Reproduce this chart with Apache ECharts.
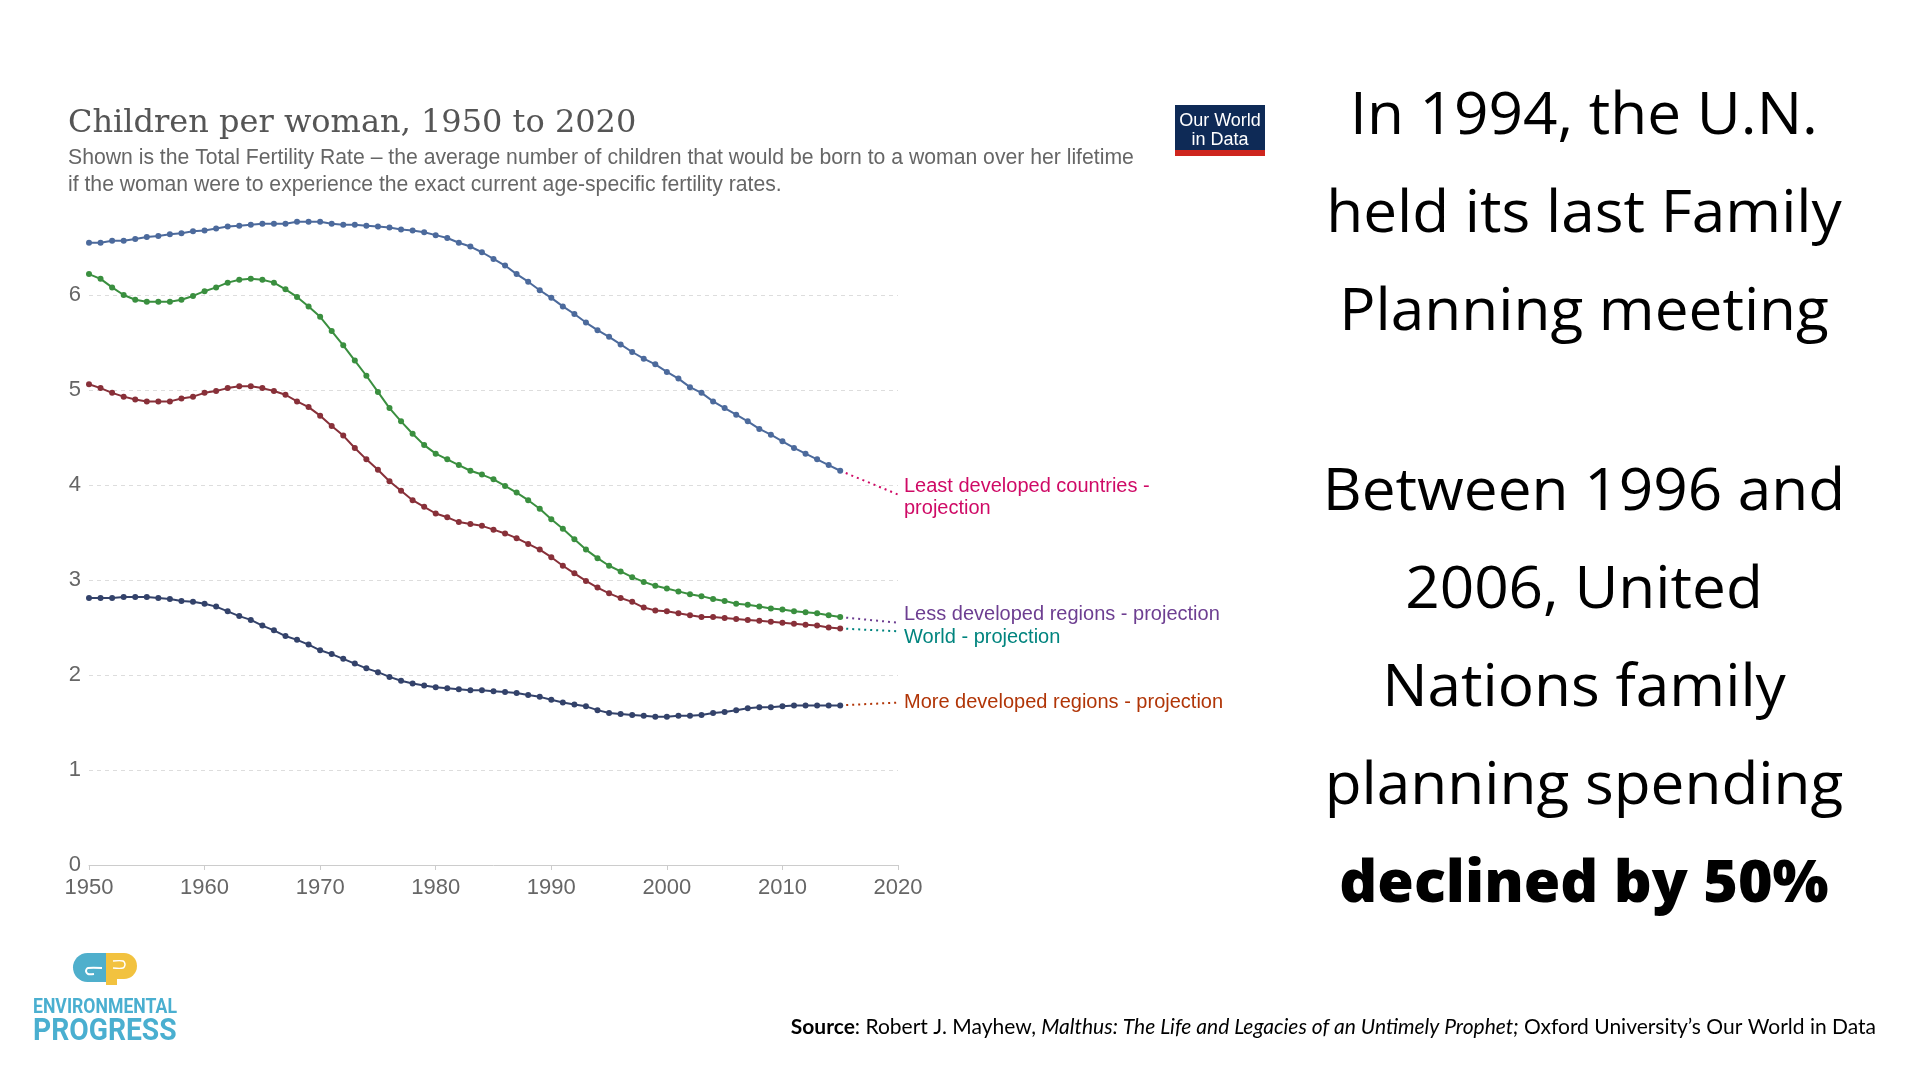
<!DOCTYPE html>
<html><head><meta charset="utf-8">
<script src="https://cdn.jsdelivr.net/npm/echarts@6/dist/echarts.min.js"></script>
<style>html,body{margin:0;padding:0;background:#fff}#c{width:1920px;height:1080px}</style>
</head><body><div id="c"></div>
<script>
const years = [1950,1951,1952,1953,1954,1955,1956,1957,1958,1959,
  1960,1961,1962,1963,1964,1965,1966,1967,1968,1969,
  1970,1971,1972,1973,1974,1975,1976,1977,1978,1979,
  1980,1981,1982,1983,1984,1985,1986,1987,1988,1989,
  1990,1991,1992,1993,1994,1995,1996,1997,1998,1999,
  2000,2001,2002,2003,2004,2005,2006,2007,2008,2009,
  2010,2011,2012,2013,2014,2015];
const leastDeveloped = [6.55,6.55,6.57,6.57,6.59,6.61,6.62,6.64,6.65,6.67,
  6.68,6.70,6.72,6.73,6.74,6.75,6.75,6.75,6.77,6.77,
  6.77,6.75,6.74,6.74,6.73,6.72,6.71,6.69,6.68,6.66,
  6.63,6.60,6.55,6.51,6.45,6.38,6.31,6.22,6.14,6.05,
  5.97,5.88,5.80,5.71,5.63,5.56,5.48,5.40,5.33,5.27,
  5.19,5.12,5.03,4.97,4.88,4.81,4.74,4.67,4.59,4.53,
  4.46,4.39,4.33,4.27,4.21,4.15];
const lessDeveloped = [6.22,6.17,6.08,6.00,5.95,5.93,5.93,5.93,5.95,5.99,
  6.04,6.08,6.13,6.16,6.17,6.16,6.13,6.06,5.98,5.88,
  5.77,5.62,5.47,5.31,5.15,4.98,4.81,4.67,4.54,4.42,
  4.33,4.27,4.21,4.15,4.11,4.06,3.99,3.92,3.84,3.75,
  3.64,3.54,3.43,3.32,3.23,3.15,3.09,3.03,2.98,2.94,
  2.91,2.88,2.85,2.83,2.80,2.78,2.75,2.74,2.72,2.70,
  2.69,2.67,2.66,2.65,2.63,2.61];
const world = [5.06,5.02,4.97,4.93,4.90,4.88,4.88,4.88,4.91,4.93,
  4.97,4.99,5.02,5.04,5.04,5.02,4.99,4.95,4.88,4.82,
  4.73,4.62,4.52,4.39,4.27,4.16,4.04,3.94,3.84,3.77,
  3.70,3.66,3.61,3.59,3.57,3.53,3.49,3.44,3.38,3.32,
  3.24,3.15,3.07,2.99,2.92,2.86,2.81,2.77,2.71,2.68,
  2.67,2.65,2.63,2.61,2.61,2.60,2.59,2.58,2.57,2.56,
  2.55,2.54,2.53,2.52,2.50,2.49];
const moreDeveloped = [2.81,2.81,2.81,2.82,2.82,2.82,2.81,2.80,2.78,2.77,
  2.75,2.72,2.67,2.62,2.58,2.52,2.47,2.41,2.37,2.32,
  2.26,2.22,2.17,2.12,2.07,2.03,1.98,1.94,1.91,1.89,
  1.87,1.86,1.85,1.84,1.84,1.83,1.82,1.81,1.79,1.77,
  1.74,1.71,1.69,1.67,1.63,1.60,1.59,1.58,1.57,1.56,
  1.56,1.57,1.57,1.58,1.60,1.61,1.63,1.65,1.66,1.66,
  1.67,1.68,1.68,1.68,1.68,1.68];
const projYears = [2015, 2020];
const projLeast = [4.15, 3.90];
const projLess = [2.61, 2.55];
const projWorld = [2.49, 2.46];
const projMore = [1.68, 1.71];
const projNames = ['Least developed countries -\nprojection', 'Less developed regions - projection', 'World - projection', 'More developed regions - projection'];
const xTicks = [1950,1960,1970,1980,1990,2000,2010,2020];
const yTicks = [0,1,2,3,4,5,6];

const rightBlock1 = ['In 1994, the U.N.', 'held its last Family', 'Planning meeting'];
const rightBlock2 = ['Between 1996 and', '2006, United', 'Nations family', 'planning spending'];
const rightBold = 'declined by 50%';

const pairs = (xs, ys) => xs.map((x, i) => [x, ys[i]]);

const mainSeries = [
  {name: 'Least developed countries', data: leastDeveloped, color: '#4c6a9c'},
  {name: 'Less developed regions', data: lessDeveloped, color: '#3a8f3f'},
  {name: 'World', data: world, color: '#883039'},
  {name: 'More developed regions', data: moreDeveloped, color: '#33426a'}
].map(s => ({
  type: 'line', name: s.name, data: pairs(years, s.data),
  symbol: 'circle', symbolSize: 6, showSymbol: true,
  lineStyle: {width: 2, color: s.color}, itemStyle: {color: s.color},
  z: 3
}));

const projDefs = [
  {data: projLeast, color: '#cf0a66', off: 3},
  {data: projLess, color: '#6d3e91', off: -8},
  {data: projWorld, color: '#00847e', off: 6},
  {data: projMore, color: '#b13507', off: 0}
];
const projSeries = projDefs.map((p, k) => ({
  type: 'line', name: projNames[k],
  data: pairs(projYears, p.data),
  symbol: 'none', showSymbol: false,
  lineStyle: {width: 2, color: p.color, type: [2, 4]},
  itemStyle: {color: p.color},
  endLabel: {show: true, distance: 6, offset: [0, p.off], formatter: projNames[k],
    color: p.color, fontSize: 20, lineHeight: 22, fontFamily: 'Liberation Sans'},
  z: 2
}));

const chart = echarts.init(document.getElementById('c'), null, {renderer: 'canvas'});

const graphics = [
  {type: 'text', x: 68, y: 124, style: {text: 'Children per woman, 1950 to 2020', fontFamily: 'DejaVu Serif', fontSize: 32, fill: '#555', textVerticalAlign: 'middle'}},
  {type: 'text', x: 68, y: 158, style: {text: 'Shown is the Total Fertility Rate – the average number of children that would be born to a woman over her lifetime', fontFamily: 'Liberation Sans', fontSize: 21.2, fill: '#666', textVerticalAlign: 'middle'}},
  {type: 'text', x: 68, y: 185, style: {text: 'if the woman were to experience the exact current age-specific fertility rates.', fontFamily: 'Liberation Sans', fontSize: 21.2, fill: '#666', textVerticalAlign: 'middle'}},
  // OWID logo
  {type: 'rect', shape: {x: 1175, y: 105, width: 90, height: 50}, style: {fill: '#0e2a56'}},
  {type: 'rect', shape: {x: 1175, y: 150, width: 90, height: 6}, style: {fill: '#ce261e'}},
  {type: 'text', x: 1220, y: 121, style: {text: 'Our World', fontFamily: 'Liberation Sans', fontSize: 18, fill: '#fff', textAlign: 'center', textVerticalAlign: 'middle'}},
  {type: 'text', x: 1220, y: 140, style: {text: 'in Data', fontFamily: 'Liberation Sans', fontSize: 18, fill: '#fff', textAlign: 'center', textVerticalAlign: 'middle'}},
  // EP logo
  {type: 'rect', shape: {x: 73, y: 953, width: 36, height: 29, r: [14.5, 0, 0, 14.5]}, style: {fill: '#4fafcc'}},
  {type: 'rect', shape: {x: 106, y: 953, width: 31, height: 26, r: [0, 13, 13, 0]}, style: {fill: '#f2c23f'}},
  {type: 'rect', shape: {x: 106, y: 970, width: 11, height: 15}, style: {fill: '#f2c23f'}},
  {type: 'polyline', shape: {points: [[102, 968], [88, 968], [86, 971], [88, 974], [94, 974]], smooth: 0.3}, style: {stroke: '#fff', lineWidth: 2, fill: null}},
  {type: 'polyline', shape: {points: [[113, 961], [123, 961], [125, 964.5], [123, 968], [113, 968]], smooth: 0.3}, style: {stroke: '#fff', lineWidth: 1.5, fill: null}},
  {type: 'text', x: 33, y: 1008, scaleX: 0.84, style: {text: 'ENVIRONMENTAL', fontFamily: 'Roboto', fontWeight: 'bold', fontSize: 21, fill: '#4aafd0', textVerticalAlign: 'middle'}},
  {type: 'text', x: 33, y: 1032, scaleX: 0.91, style: {text: 'PROGRESS', fontFamily: 'Roboto', fontWeight: 'bold', fontSize: 31, fill: '#4aafd0', textVerticalAlign: 'middle'}},
  // Source
  {type: 'text', x: 1876, y: 1027, style: {
    text: '{b|Source}: Robert J. Mayhew, {i|Malthus: The Life and Legacies of an Untimely Prophet;} Oxford University’s Our World in Data',
    fontFamily: 'Lato', fontSize: 21, fill: '#000', textAlign: 'right', textVerticalAlign: 'middle',
    rich: {b: {fontFamily: 'Lato', fontSize: 21, fontWeight: 'bold', fill: '#000'}, i: {fontFamily: 'Lato', fontSize: 21, fontStyle: 'italic', fill: '#000'}}
  }}
];
const bigText = (t, y, weight, sx) => ({type: 'text', x: 1584, y: y, scaleX: sx,
  style: {text: t, fontFamily: 'Open Sans', fontWeight: weight, fontSize: 58, fill: '#000', textAlign: 'center', textVerticalAlign: 'middle'}});
rightBlock1.forEach((t, i) => graphics.push(bigText(t, 117 + i * 98, 500, 1.04)));
rightBlock2.forEach((t, i) => graphics.push(bigText(t, 493 + i * 98, 500, 1.04)));
graphics.push(bigText(rightBold, 493 + 4 * 98, 800, 1.02));

chart.setOption({
  animation: false,
  backgroundColor: '#fff',
  grid: {left: 89, right: 1920 - 898, top: 200, bottom: 1080 - 865, containLabel: false},
  xAxis: {
    type: 'value', min: xTicks[0], max: xTicks[xTicks.length - 1], interval: 10,
    axisLine: {show: true, lineStyle: {color: '#ccc', width: 1}},
    axisTick: {show: true, length: 5, lineStyle: {color: '#ccc'}},
    axisLabel: {color: '#666', fontSize: 22, fontFamily: 'Liberation Sans', margin: 12, formatter: v => String(v)},
    splitLine: {show: false}
  },
  yAxis: {
    type: 'value', min: yTicks[0], max: 7, interval: 1,
    axisLine: {show: false}, axisTick: {show: false},
    axisLabel: {color: '#666', fontSize: 22, fontFamily: 'Liberation Sans', margin: 8, showMaxLabel: false,
      formatter: v => (yTicks.indexOf(v) >= 0 ? String(v) : '')},
    splitLine: {show: true, showMaxLine: false, lineStyle: {color: '#ddd', type: [4, 4], width: 1}}
  },
  series: mainSeries.concat(projSeries),
  graphic: graphics
});
</script></body></html>
